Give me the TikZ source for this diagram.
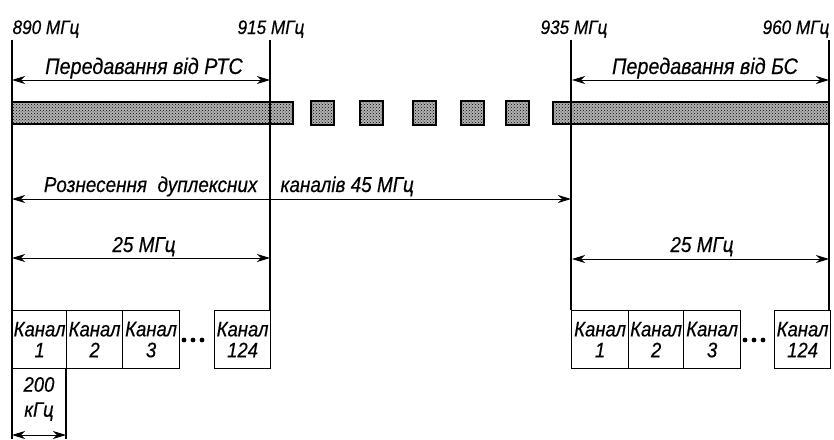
\documentclass[tikz,border=0pt]{standalone}
\usepackage{fontspec}
\setmainfont{Liberation Sans}
\newfontfamily\cf[FakeStretch=0.88,FakeBold=0.4]{Liberation Sans}
\usetikzlibrary{arrows.meta,patterns}
\begin{document}
\begin{tikzpicture}[x=1pt,y=-1pt,
 dim/.style={line width=0.9pt,{Stealth[length=13pt,width=8pt,inset=4pt]}-{Stealth[length=13pt,width=8pt,inset=4pt]}},
 vline/.style={line width=1.3pt},
 bandfill/.style={fill=black!30},
 band/.style={draw,line width=1.3pt,pattern=crosshatch dots},
 chan/.style={draw,line width=1.2pt,minimum height=58pt,inner sep=0pt,align=center,font=\cf\itshape\fontsize{21}{21}\selectfont,anchor=north west},
 freq/.style={font=\cf\itshape\fontsize{19.5}{19}\selectfont,anchor=base},
 lab/.style={font=\cf\itshape\fontsize{21.5}{21}\selectfont,anchor=base},
 dot/.style={circle,fill,inner sep=0pt,minimum size=4.8pt}
]
\useasboundingbox (0,0) rectangle (834,439);
% frequency labels
\node[freq] (f890) at (46,34) {890 МГц};
\node[freq] (f915) at (271,34) {915 МГц};
\node[freq] (f935) at (574,34) {935 МГц};
\node[freq] (f960) at (796,34) {960 МГц};
% band bars
\fill[bandfill] (12,102) rectangle (293,124);
\draw[band] (12,102) rectangle (293,124);
\foreach \a in {311,360,413,461,506}{
  \fill[bandfill] (\a,101) rectangle ++(23,24);
  \draw[band] (\a,101) rectangle ++(23,24);}
\fill[bandfill] (553,102) rectangle (829,124);
\draw[band] (553,102) rectangle (829,124);
% coordinates
\coordinate (t890) at (12,40);
\coordinate (t915) at (270,40);
\coordinate (t935) at (571,40);
\coordinate (t960) at (829,40);
\coordinate (b890) at (12,439);
\coordinate (b915) at (270,310);
\coordinate (b935) at (571,310);
\coordinate (b960) at (829,310);
\draw[vline] (t890) -- (b890);
\draw[vline] (t915) -- (b915);
\draw[vline] (t935) -- (b935);
\draw[vline] (t960) -- (b960);
% dimension arrows
\coordinate (a1) at (12,80); \coordinate (a2) at (270,80);
\draw[dim] (a1) -- (a2);
\node[lab,font=\cf\itshape\fontsize{22.5}{22}\selectfont] (rtc) at (144,74) {Передавання від РТС};
\coordinate (a3) at (572,80); \coordinate (a4) at (829,80);
\draw[dim] (a3) -- (a4);
\node[lab,font=\cf\itshape\fontsize{22.5}{22}\selectfont] (bs) at (705,74) {Передавання від БС};
\coordinate (d1) at (12,199); \coordinate (d2) at (571,199);
\draw[dim] (d1) -- (d2);
\node[lab,anchor=base east] (dupa) at (261,192) {Рознесення\ \ дуплексних};
\node[lab,anchor=base west] (dupb) at (277,192) {каналів 45 МГц};
\coordinate (e1) at (12,258); \coordinate (e2) at (270,258);
\draw[dim] (e1) -- (e2);
\node[lab] (m25a) at (144,252) {25 МГц};
\coordinate (e3) at (572,259); \coordinate (e4) at (829,259);
\draw[dim] (e3) -- (e4);
\node[lab] (m25b) at (702,252) {25 МГц};
% channel boxes left
\node[chan,minimum width=54pt] (l1) at (12,310) {Канал\\1};
\node[chan,minimum width=56pt] (l2) at (66,310) {Канал\\2};
\node[chan,minimum width=57pt] (l3) at (122,310) {Канал\\3};
\node[chan,minimum width=56pt] (l124) at (214,310) {Канал\\124};
\node[dot] (ld1) at (184,340) {};
\node[dot] (ld2) at (193,340) {};
\node[dot] (ld3) at (202,340) {};
% channel boxes right
\node[chan,minimum width=57pt] (r1) at (571,310) {Канал\\1};
\node[chan,minimum width=55pt] (r2) at (628,310) {Канал\\2};
\node[chan,minimum width=57pt] (r3) at (683,310) {Канал\\3};
\node[chan,minimum width=56pt] (r124) at (774,310) {Канал\\124};
\node[dot] (rd1) at (745,340) {};
\node[dot] (rd2) at (754,340) {};
\node[dot] (rd3) at (763,340) {};
% 200 kHz
\node[align=center,font=\cf\itshape\fontsize{21}{25}\selectfont] (khz) at (39,399) {200\\кГц};
\coordinate (k1) at (66,368); \coordinate (k2) at (66,439);
\draw[vline] (k1) -- (k2);
\coordinate (k3) at (12,435); \coordinate (k4) at (66,435);
\draw[dim] (k3) -- (k4);
\end{tikzpicture}
\end{document}
